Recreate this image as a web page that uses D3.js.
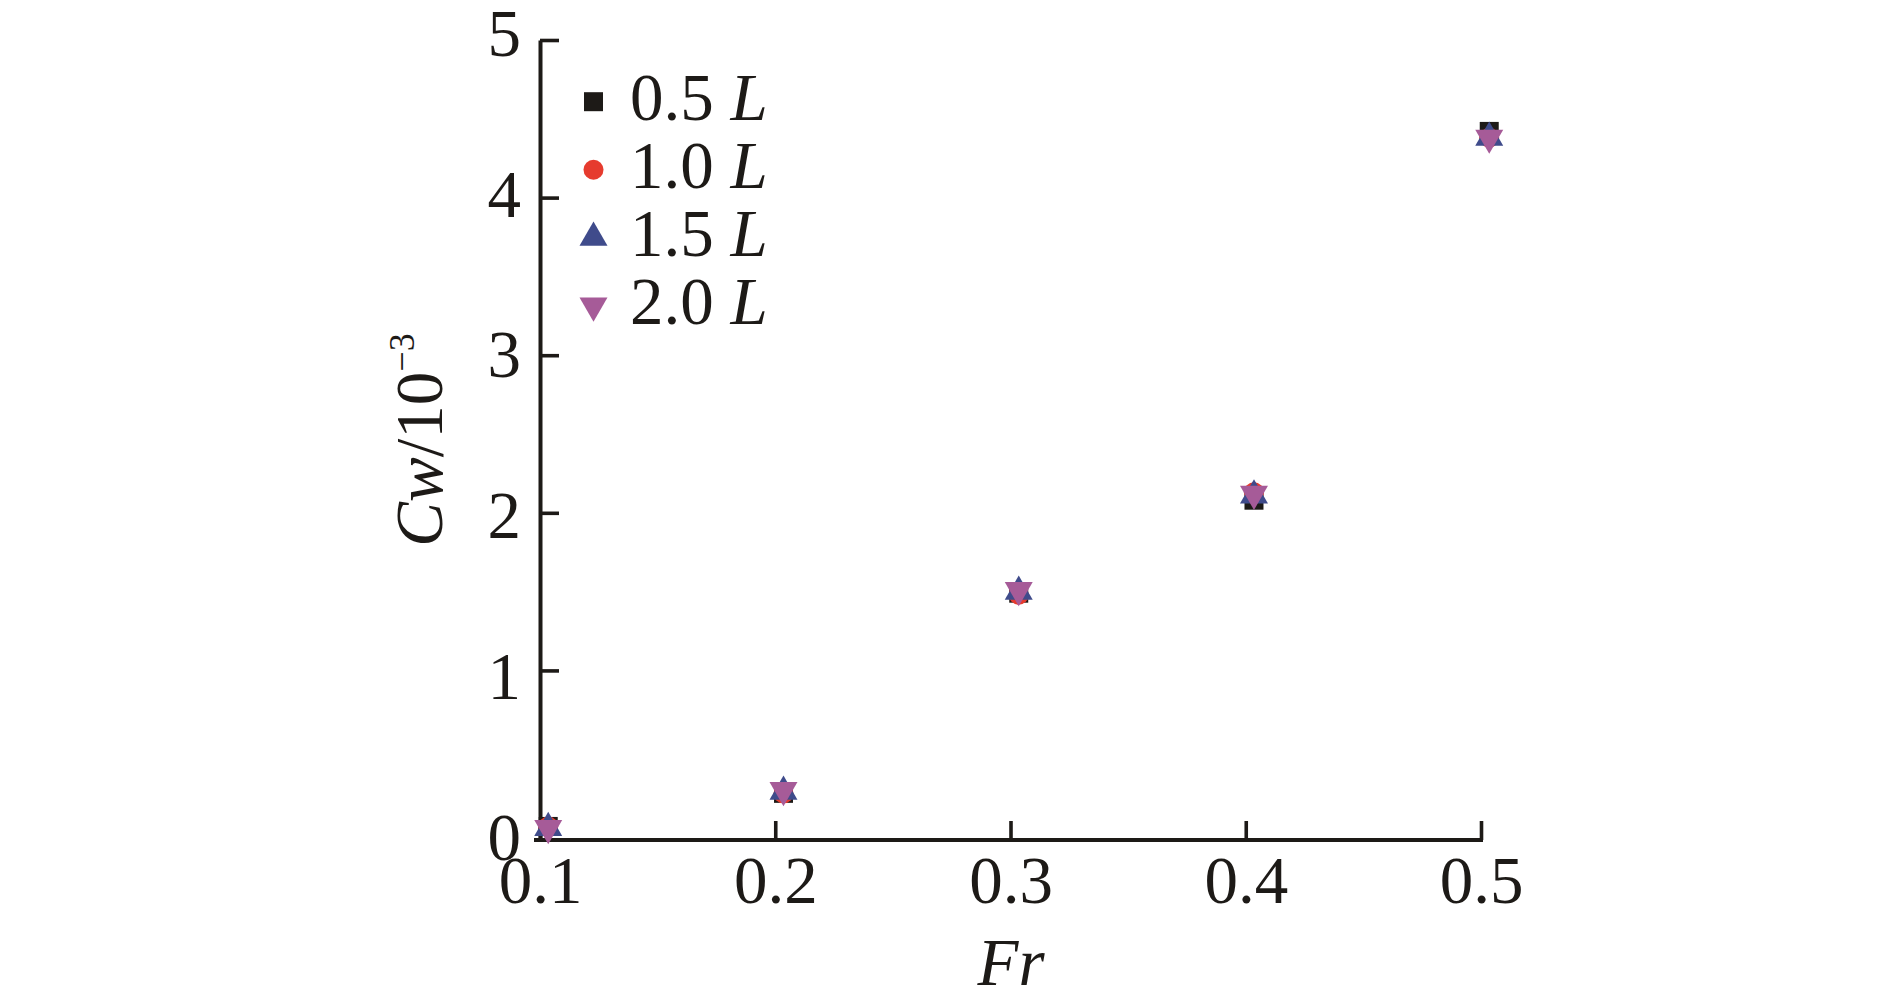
<!DOCTYPE html>
<html>
<head>
<meta charset="utf-8">
<script src="https://cdn.jsdelivr.net/npm/d3@7"></script>
<style>
  body { margin: 0; background: #fff; }
  text { font-family: "Liberation Serif", "Times New Roman", serif; fill: #1d1a17; }
</style>
</head>
<body>
<div id="chart"></div>
<script>
// Froude numbers (points sit a touch right of the ticks in the original)
var fr = [0.1035, 0.2035, 0.3035, 0.4035, 0.5035];
var seriesNames = ["0.5", "1.0", "1.5", "2.0"];
var cw05 = [0.01, 0.22, 1.49, 2.08, 4.42];
var cw10 = [0.01, 0.22, 1.48, 2.13, 4.38];
var cw15 = [0.00, 0.23, 1.50, 2.11, 4.38];
var cw20 = [0.00, 0.24, 1.51, 2.12, 4.38];
var xTicks = [0.1, 0.2, 0.3, 0.4, 0.5];
var yTicks = [0, 1, 2, 3, 4, 5];

var series = [
  {name: seriesNames[0], values: cw05, shape: d3.symbolSquare, size: 361, rot: 0, color: "#1d1a17"},
  {name: seriesNames[1], values: cw10, shape: d3.symbolCircle, size: 314, rot: 0, color: "#e63b2e"},
  {name: seriesNames[2], values: cw15, shape: d3.symbolTriangle, size: 339, rot: 0, color: "#3f4b8b"},
  {name: seriesNames[3], values: cw20, shape: d3.symbolTriangle, size: 339, rot: 180, color: "#a65b98"}
];

var width = 1890, height = 1006;
var axisColor = "#1d1a17";

var svg = d3.select("#chart")
  .append("svg")
  .attr("width", width)
  .attr("height", height);

var x = d3.scaleLinear().domain([0.1, 0.5]).range([540, 1481]);
var y = d3.scaleLinear().domain([-0.076, 5]).range([840, 40]);
// tick labels in the original sit on a slightly stretched spacing
var yLab = d3.scaleLinear().domain([0, 5]).range([836.5, 32.5]);

// x axis
var gx = svg.append("g")
  .attr("transform", "translate(0,840)")
  .call(d3.axisBottom(x).tickValues(xTicks).tickFormat(d3.format(".1f"))
    .tickSizeInner(-19).tickSizeOuter(0).tickPadding(0));
gx.select(".domain").attr("stroke", axisColor).attr("stroke-width", 4).attr("d", "M534,0H1483");
gx.selectAll(".tick line").attr("stroke", axisColor).attr("stroke-width", 3.6);
gx.selectAll(".tick text")
  .attr("y", 63).attr("dy", 0)
  .attr("font-size", 67)
  .attr("font-family", "Liberation Serif")
  .attr("fill", axisColor);

// y axis line and ticks
var gy = svg.append("g")
  .attr("transform", "translate(540,0)")
  .call(d3.axisLeft(y).tickValues(yTicks.filter(function (d) { return d > 0; }))
    .tickFormat("").tickSizeInner(-19).tickSizeOuter(0));
gy.select(".domain").attr("stroke", axisColor).attr("stroke-width", 4);
gy.selectAll(".tick line").attr("stroke", axisColor).attr("stroke-width", 3.6);

// y tick labels
var gyl = svg.append("g")
  .attr("transform", "translate(540,0)")
  .call(d3.axisLeft(yLab).tickValues(yTicks).tickFormat(d3.format("d")).tickSize(0).tickPadding(19));
gyl.select(".domain").remove();
gyl.selectAll(".tick text")
  .attr("dy", "0.34em")
  .attr("font-size", 67)
  .attr("font-family", "Liberation Serif")
  .attr("fill", axisColor);

// axis titles
svg.append("text")
  .attr("x", 1011)
  .attr("y", 985)
  .attr("text-anchor", "middle")
  .attr("font-size", 67)
  .attr("font-style", "italic")
  .text("Fr");

var yt = svg.append("text")
  .attr("transform", "translate(442,440) rotate(-90)")
  .attr("text-anchor", "middle")
  .attr("font-size", 67);
yt.append("tspan").attr("font-style", "italic").text("Cw");
yt.append("tspan").text("/10");
yt.append("tspan").attr("font-size", 36).attr("dy", -28).text("\u22123");

// points
series.forEach(function (s) {
  svg.append("g")
    .selectAll("path")
    .data(fr.map(function (f, i) { return {f: f, v: s.values[i]}; }))
    .enter()
    .append("path")
    .attr("d", d3.symbol().type(s.shape).size(s.size))
    .attr("transform", function (d) {
      return "translate(" + x(d.f) + "," + y(d.v) + ") rotate(" + s.rot + ")";
    })
    .attr("fill", s.color);
});

// legend
var legend = svg.append("g");
series.forEach(function (s, i) {
  var base = 120 + i * 68;
  legend.append("path")
    .attr("d", d3.symbol().type(s.shape).size(s.size))
    .attr("transform", "translate(593.5," + (base - 18.3) + ") rotate(" + s.rot + ")")
    .attr("fill", s.color);
  var t = legend.append("text")
    .attr("x", 630)
    .attr("y", base)
    .attr("font-size", 67);
  t.append("tspan").text(s.name + " ");
  t.append("tspan").attr("font-style", "italic").text("L");
});
</script>
</body>
</html>
